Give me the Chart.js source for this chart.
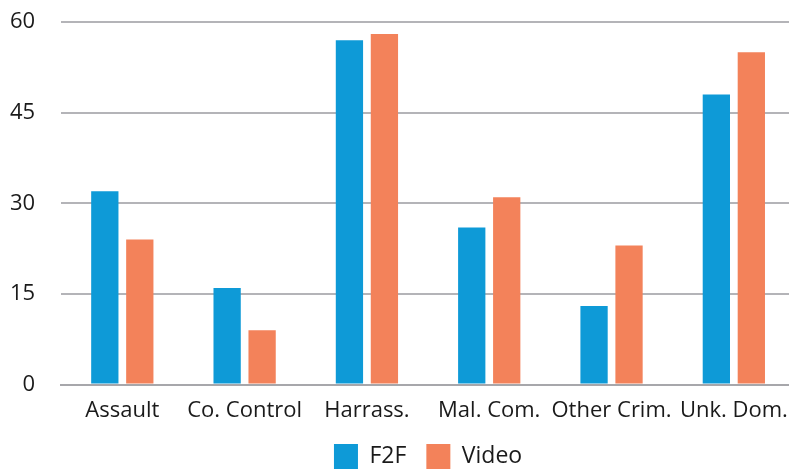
<!DOCTYPE html>
<html>
<head>
<meta charset="utf-8">
<script src="https://cdn.jsdelivr.net/npm/chart.js@4"></script>
<style>
  html, body { margin: 0; padding: 0; background: #fff; overflow: hidden; }
  #wrap { width: 797px; height: 471px; position: relative; }
</style>
</head>
<body>
<div id="wrap"><canvas id="barChart"></canvas></div>
<script>
// Grouped bar chart: F2F vs Video by offence type

const categories = ['Assault', 'Co. Control', 'Harrass.', 'Mal. Com.', 'Other Crim.', 'Unk. Dom.'];
const f2fValues = [32, 16, 57, 26, 13, 48];
const videoValues = [24, 9, 58, 31, 23, 55];
const yTicks = [0, 15, 30, 45, 60];

const font = size => ({ family: 'Open Sans', size: size });

// center the legend under the plot area instead of the whole canvas
const legendUnderPlot = {
  id: 'legendUnderPlot',
  afterLayout(chart) {
    const lg = chart.legend, area = chart.chartArea;
    if (!lg) return;
    lg.left = area.left;
    lg.right = area.right;
  }
};

const ctx = document.getElementById('barChart').getContext('2d');
new Chart(ctx, {
  type: 'bar',
  data: {
    labels: categories,
    datasets: [
      { label: 'F2F', data: f2fValues, backgroundColor: '#0e9ad7' },
      { label: 'Video', data: videoValues, backgroundColor: '#f3825a' }
    ]
  },
  plugins: [legendUnderPlot],
  options: {
    responsive: true,
    maintainAspectRatio: false,
    animation: false,
    layout: { padding: { top: 22, left: -16, right: 2, bottom: -8 } },
    datasets: { bar: { categoryPercentage: 0.572, barPercentage: 0.78 } },
    scales: {
      x: {
        grid: { display: false, drawTicks: false },
        border: { display: true, color: '#a7a7ab', width: 2 },
        ticks: { color: '#1a1a1a', font: font(22), padding: 13, maxRotation: 0, autoSkip: false },
        // labels stay tied to the axis line; the legend's top padding absorbs the overlap
        afterFit: s => { s.paddingLeft = 0; s.paddingRight = 0; s.height -= 13; }
      },
      y: {
        min: 0, max: 60,
        afterBuildTicks: axis => { axis.ticks = yTicks.map(v => ({ value: v })); },
        grid: { color: '#b4b4b8', lineWidth: 2, drawTicks: false },
        border: { display: false },
        ticks: { color: '#1a1a1a', font: font(22), padding: 26 },
        afterFit: s => { s.paddingTop = 0; s.paddingBottom = 0; }
      }
    },
    plugins: {
      legend: {
        position: 'bottom',
        labels: {
          color: '#1a1a1a',
          font: font(23),
          boxWidth: 24, boxHeight: 25, padding: 20
        }
      },
      tooltip: { enabled: false }
    }
  }
});
</script>
</body>
</html>
